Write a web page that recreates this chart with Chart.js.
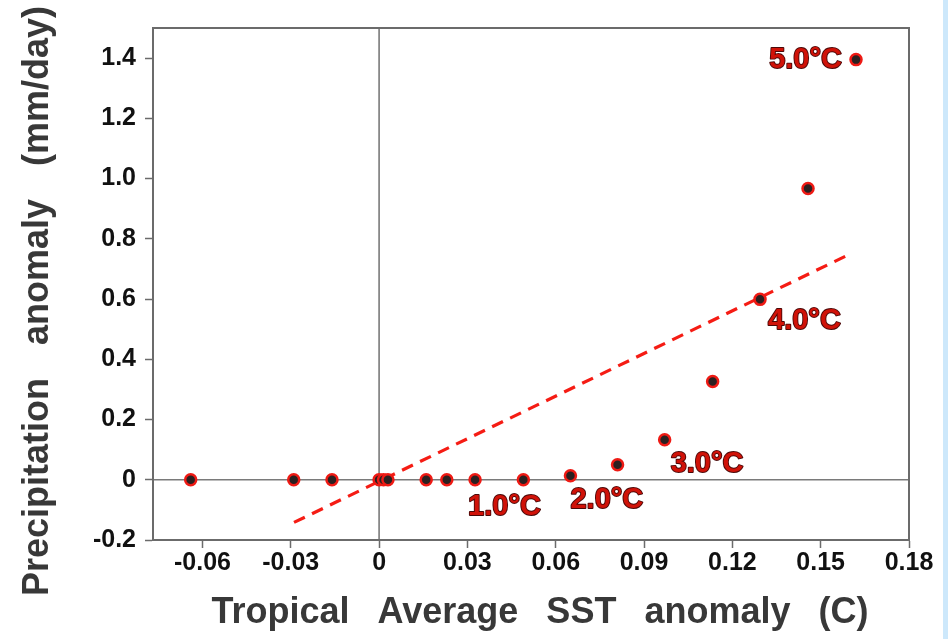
<!DOCTYPE html>
<html>
<head>
<meta charset="utf-8">
<script src="https://cdn.jsdelivr.net/npm/chart.js@4.4.1/dist/chart.umd.min.js"></script>
<style>
  html, body { margin: 0; padding: 0; }
  body {
    width: 948px; height: 639px; overflow: hidden;
    background: linear-gradient(to right, #ffffff 943px, #cde8fb 943px);
  }
  #wrap { position: relative; width: 948px; height: 639px; }
</style>
</head>
<body>
<div id="wrap"><canvas id="sstChart"></canvas></div>
<script>
// SST anomaly (C) vs precipitation anomaly (mm/day)
const sstX = [-0.064, -0.029, -0.016, 0.000, 0.0015, 0.003, 0.016, 0.023, 0.0326, 0.049, 0.065, 0.081, 0.097, 0.1133, 0.1294, 0.1457, 0.162];
const precipY = [0, 0, 0, 0, 0, 0, 0, 0, 0, 0, 0.013, 0.05, 0.133, 0.326, 0.599, 0.967, 1.395];

// dashed fit line ends
const fitX = [-0.0289, 0.1605];
const fitY = [-0.1416, 0.752];

// warming labels, attached to point indices
const warmLabels = ["1.0°C", "2.0°C", "3.0°C", "4.0°C", "5.0°C"];
const warmIndex = [8, 10, 12, 14, 16];

const xTicks = [-0.06, -0.03, 0, 0.03, 0.06, 0.09, 0.12, 0.15, 0.18];
const xTickLabels = ["-0.06", "-0.03", "0", "0.03", "0.06", "0.09", "0.12", "0.15", "0.18"];
const yTicks = [-0.2, 0, 0.2, 0.4, 0.6, 0.8, 1.0, 1.2, 1.4];
const yTickLabels = ["-0.2", "0", "0.2", "0.4", "0.6", "0.8", "1.0", "1.2", "1.4"];

const xTitle = "Tropical Average SST anomaly (C)";
const yTitle = "Precipitation anomaly (mm/day)";

document.addEventListener("DOMContentLoaded", () => {
  const ctx = document.getElementById("sstChart").getContext("2d");
  const axisGray = "#6b6b6b";
  const FONT = "'Liberation Sans', Arial, sans-serif";

  // frame + zero lines
  const framePlugin = {
    id: "frame",
    beforeDatasetsDraw(chart) {
      const { ctx, chartArea: a, scales } = chart;
      ctx.save();
      ctx.strokeStyle = "#7a7a7a";
      ctx.lineWidth = 1.6;
      const x0 = scales.x.getPixelForValue(0);
      const y0 = scales.y.getPixelForValue(0);
      ctx.beginPath();
      ctx.moveTo(x0, a.top); ctx.lineTo(x0, a.bottom);
      ctx.moveTo(a.left, y0); ctx.lineTo(a.right, y0);
      ctx.stroke();
      ctx.strokeStyle = axisGray;
      ctx.lineWidth = 2;
      ctx.strokeRect(a.left, a.top, a.right - a.left, a.bottom - a.top);
      ctx.restore();
    },
  };

  // temperature labels next to the points
  const labelOffsets = [
    { dx: -7, dy: 35, align: "left" },
    { dx: 0, dy: 32, align: "left" },
    { dx: 6, dy: 32, align: "left" },
    { dx: 8, dy: 30, align: "left" },
    { dx: -14, dy: 8, align: "right" },
  ];
  const warmLabelPlugin = {
    id: "warmLabels",
    afterDatasetsDraw(chart) {
      const { ctx, scales } = chart;
      ctx.save();
      ctx.font = `bold 29px ${FONT}`;
      ctx.textBaseline = "alphabetic";
      ctx.lineJoin = "round";
      warmLabels.forEach((txt, i) => {
        const k = warmIndex[i];
        const px = scales.x.getPixelForValue(sstX[k]) + labelOffsets[i].dx;
        const py = scales.y.getPixelForValue(precipY[k]) + labelOffsets[i].dy;
        ctx.textAlign = labelOffsets[i].align;
        ctx.strokeStyle = "#4a0808";
        ctx.lineWidth = 1.8;
        ctx.strokeText(txt, px, py);
        ctx.fillStyle = "#d01208";
        ctx.fillText(txt, px, py);
      });
      ctx.restore();
    },
  };

  // axis titles
  const titlePlugin = {
    id: "axisTitles",
    afterDraw(chart) {
      const { ctx } = chart;
      ctx.save();
      ctx.font = `bold 36px ${FONT}`;
      ctx.fillStyle = "#383838";
      ctx.textAlign = "center";
      ctx.textBaseline = "alphabetic";
      if ("wordSpacing" in ctx) ctx.wordSpacing = "18px";
      ctx.fillText(xTitle, 540, 623);
      ctx.translate(48, 301);
      ctx.rotate(-Math.PI / 2);
      if ("wordSpacing" in ctx) ctx.wordSpacing = "23px";
      ctx.fillText(yTitle, 0, 0);
      ctx.restore();
    },
  };

  new Chart(ctx, {
    data: {
      datasets: [
        {
          type: "scatter",
          label: "runs",
          data: sstX.map((x, i) => ({ x, y: precipY[i] })),
          pointRadius: 5.5,
          pointBorderWidth: 2.5,
          pointBackgroundColor: "#2b2020",
          pointBorderColor: "#ee1a14",
          order: 0,
        },
        {
          type: "line",
          label: "fit",
          data: fitX.map((x, i) => ({ x, y: fitY[i] })),
          borderColor: "#f51c14",
          borderWidth: 3.2,
          borderDash: [12, 8],
          pointRadius: 0,
          fill: false,
          order: 1,
        },
      ],
    },
    options: {
      responsive: true,
      maintainAspectRatio: false,
      animation: false,
      layout: { padding: { top: 28, right: 39, left: 0, bottom: 0 } },
      plugins: { legend: { display: false }, tooltip: { enabled: false } },
      scales: {
        x: {
          type: "linear",
          min: -0.0768,
          max: 0.18,
          afterBuildTicks: (s) => { s.ticks = xTicks.map((v) => ({ value: v })); },
          afterFit: (s) => { s.height = 99; },
          ticks: {
            callback: (v) => xTickLabels[xTicks.findIndex((t) => Math.abs(t - v) < 1e-9)],
            color: "#111",
            font: { family: FONT, size: 25, weight: "bold" },
            padding: 0,
            maxRotation: 0,
            autoSkip: false,
          },
          grid: { drawOnChartArea: false, drawTicks: true, tickLength: 8, tickColor: axisGray, tickWidth: 1.5 },
          border: { display: true, color: axisGray, width: 2 },
        },
        y: {
          type: "linear",
          min: -0.2,
          max: 1.5,
          afterBuildTicks: (s) => { s.ticks = yTicks.map((v) => ({ value: v })); },
          afterFit: (s) => { s.width = 153; },
          ticks: {
            callback: (v) => yTickLabels[yTicks.findIndex((t) => Math.abs(t - v) < 1e-9)],
            color: "#111",
            font: { family: FONT, size: 25, weight: "bold" },
            padding: 9,
            autoSkip: false,
          },
          grid: { drawOnChartArea: false, drawTicks: true, tickLength: 8, tickColor: axisGray, tickWidth: 1.5 },
          border: { display: true, color: axisGray, width: 2 },
        },
      },
    },
    plugins: [framePlugin, warmLabelPlugin, titlePlugin],
  });
});
</script>
</body>
</html>
